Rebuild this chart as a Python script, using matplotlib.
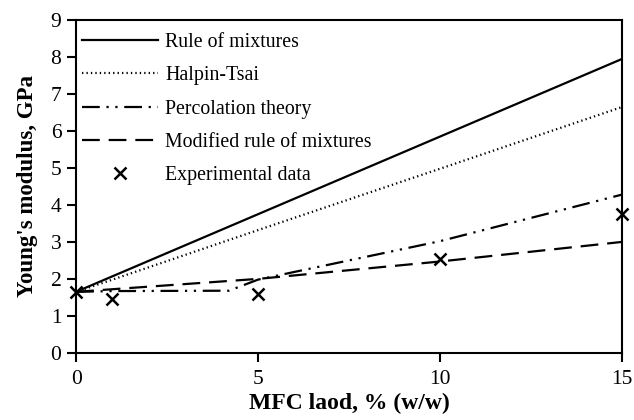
import matplotlib
matplotlib.use("Agg")
import matplotlib.pyplot as plt

# MFC load (% w/w) and modulus predictions (GPa)
load_rom = [0, 1, 5, 10, 15]
rule_of_mixtures = [1.65, 2.07, 3.75, 5.85, 7.95]

load_ht = [0, 1, 5, 10, 15]
halpin_tsai = [1.65, 1.98, 3.32, 4.98, 6.65]

load_perc = [0, 1, 4.2, 5, 10, 15]
percolation = [1.65, 1.67, 1.68, 1.98, 3.02, 4.28]

load_mrom = [0, 1, 5, 10, 15]
modified_rom = [1.65, 1.72, 2.0, 2.47, 3.0]

load_exp = [0, 1, 5, 10, 15]
experimental = [1.65, 1.45, 1.6, 2.55, 3.75]

plt.rcParams["font.family"] = ["Liberation Serif", "DejaVu Serif"]

fig = plt.figure(figsize=(6.34, 4.2), dpi=100)
ax = fig.add_axes([0.12, 0.16, 0.861, 0.792])

ax.plot(load_rom, rule_of_mixtures, color="black", lw=1.6, label="Rule of mixtures")
ax.plot(load_ht, halpin_tsai, color="black", lw=1.6, linestyle=(0, (0.6, 1.4)),
        label="Halpin-Tsai")
ax.plot(load_perc, percolation, color="black", lw=1.6,
        linestyle=(0, (8, 3, 1, 3, 1, 3)), label="Percolation theory")
ax.plot(load_mrom, modified_rom, color="black", lw=1.6, linestyle=(0, (8, 4)),
        label="Modified rule of mixtures")
ax.plot(load_exp, experimental, linestyle="none", marker="x", ms=9, mew=1.8,
        color="black", clip_on=False, zorder=5, label="Experimental data")

ax.set_xlim(0, 15)
ax.set_ylim(0, 9)
ax.set_xticks([0, 5, 10, 15])
ax.set_yticks(range(0, 10))

for s in ax.spines.values():
    s.set_linewidth(1.5)
ax.tick_params(direction="out", length=6.5, width=1.5, labelsize=15.5)
ax.tick_params(axis="x", pad=6)
ax.tick_params(axis="y", pad=4)

ax.set_xlabel("MFC laod, % (w/w)", fontsize=17, fontweight="bold", labelpad=3)
ax.set_ylabel("Young's modulus, GPa", fontsize=16.5, fontweight="bold", labelpad=9)

ax.legend(loc="upper left", bbox_to_anchor=(0.0, 0.979), frameon=False,
          fontsize=14.3, handlelength=3.8, handletextpad=0.4, labelspacing=0.72,
          borderaxespad=0.1, borderpad=0.2)

fig.savefig("out.png", dpi=100)
